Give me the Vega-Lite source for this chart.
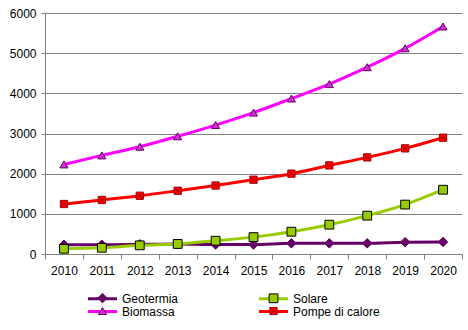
{
  "$schema": "https://vega.github.io/schema/vega-lite/v6.json",
  "width": 417,
  "height": 241,
  "autosize": {"type": "none"},
  "padding": {"left": 45, "top": 13, "right": 6, "bottom": 76},
  "background": "white",
  "config": {
    "view": {"stroke": null},
    "font": "Liberation Sans",
    "axis": {"labelFont": "Liberation Sans", "labelFontSize": 12, "labelColor": "black", "domainColor": "#808080", "tickColor": "#808080", "gridColor": "#808080", "gridOpacity": 1, "titleFontSize": 12},
    "legend": {"labelFont": "Liberation Sans", "labelFontSize": 12, "labelColor": "black", "padding": 0}
  },
  "data": {"values": [
    {"anno": "2010", "serie": "Geotermia", "valore": 230},
    {"anno": "2011", "serie": "Geotermia", "valore": 230},
    {"anno": "2012", "serie": "Geotermia", "valore": 240},
    {"anno": "2013", "serie": "Geotermia", "valore": 250},
    {"anno": "2014", "serie": "Geotermia", "valore": 235},
    {"anno": "2015", "serie": "Geotermia", "valore": 235},
    {"anno": "2016", "serie": "Geotermia", "valore": 265},
    {"anno": "2017", "serie": "Geotermia", "valore": 265},
    {"anno": "2018", "serie": "Geotermia", "valore": 265},
    {"anno": "2019", "serie": "Geotermia", "valore": 295},
    {"anno": "2020", "serie": "Geotermia", "valore": 300},
    {"anno": "2010", "serie": "Solare", "valore": 130},
    {"anno": "2011", "serie": "Solare", "valore": 155},
    {"anno": "2012", "serie": "Solare", "valore": 215},
    {"anno": "2013", "serie": "Solare", "valore": 250},
    {"anno": "2014", "serie": "Solare", "valore": 330},
    {"anno": "2015", "serie": "Solare", "valore": 420},
    {"anno": "2016", "serie": "Solare", "valore": 555},
    {"anno": "2017", "serie": "Solare", "valore": 730},
    {"anno": "2018", "serie": "Solare", "valore": 955},
    {"anno": "2019", "serie": "Solare", "valore": 1230},
    {"anno": "2020", "serie": "Solare", "valore": 1600},
    {"anno": "2010", "serie": "Biomassa", "valore": 2230},
    {"anno": "2011", "serie": "Biomassa", "valore": 2455},
    {"anno": "2012", "serie": "Biomassa", "valore": 2670},
    {"anno": "2013", "serie": "Biomassa", "valore": 2930},
    {"anno": "2014", "serie": "Biomassa", "valore": 3210},
    {"anno": "2015", "serie": "Biomassa", "valore": 3520},
    {"anno": "2016", "serie": "Biomassa", "valore": 3870},
    {"anno": "2017", "serie": "Biomassa", "valore": 4230},
    {"anno": "2018", "serie": "Biomassa", "valore": 4650},
    {"anno": "2019", "serie": "Biomassa", "valore": 5120},
    {"anno": "2020", "serie": "Biomassa", "valore": 5665},
    {"anno": "2010", "serie": "Pompe di calore", "valore": 1245},
    {"anno": "2011", "serie": "Pompe di calore", "valore": 1345},
    {"anno": "2012", "serie": "Pompe di calore", "valore": 1450},
    {"anno": "2013", "serie": "Pompe di calore", "valore": 1575},
    {"anno": "2014", "serie": "Pompe di calore", "valore": 1705},
    {"anno": "2015", "serie": "Pompe di calore", "valore": 1850},
    {"anno": "2016", "serie": "Pompe di calore", "valore": 2000},
    {"anno": "2017", "serie": "Pompe di calore", "valore": 2205},
    {"anno": "2018", "serie": "Pompe di calore", "valore": 2405},
    {"anno": "2019", "serie": "Pompe di calore", "valore": 2630},
    {"anno": "2020", "serie": "Pompe di calore", "valore": 2895}
  ]},
  "encoding": {
    "x": {"field": "anno", "type": "ordinal", "title": null,
      "scale": {"type": "band", "paddingInner": 0, "paddingOuter": 0},
      "axis": {"labelAngle": 0, "tickBand": "extent", "tickSize": 5, "labelPadding": 6, "domainColor": "#808080"}},
    "y": {"field": "valore", "type": "quantitative", "title": null,
      "scale": {"domain": [0, 6000], "nice": false},
      "axis": {"values": [0, 1000, 2000, 3000, 4000, 5000, 6000], "format": "d", "tickSize": 4, "labelPadding": 5, "grid": true}}
  },
  "layer": [
    {
      "mark": {"type": "line", "strokeWidth": 3, "interpolate": "monotone"},
      "encoding": {
        "color": {"field": "serie", "type": "nominal",
          "scale": {"domain": ["Geotermia", "Solare", "Biomassa", "Pompe di calore"], "range": ["#660066", "#99CC00", "#FF00FF", "#FF0000"]},
          "legend": {"title": null, "orient": "none", "legendX": 43, "legendY": 279, "columns": 2, "direction": "horizontal",
            "symbolType": "M-2.9,0H2.9", "symbolSize": 100, "symbolStrokeWidth": 3, "symbolOffset": 8, "labelOffset": 13, "columnPadding": 74, "rowPadding": -2}}
      }
    },
    {
      "mark": {"type": "point", "filled": true, "opacity": 1, "strokeWidth": 1},
      "encoding": {
        "fill": {"field": "serie", "type": "nominal",
          "scale": {"domain": ["Geotermia", "Solare", "Biomassa", "Pompe di calore", "-"], "range": ["#660066", "#99CC00", "#CC33CC", "#FF0000", "#FFFFFF"]},
          "legend": {"title": null, "orient": "none", "legendX": 43, "legendY": 279, "columns": 2, "direction": "horizontal",
            "values": ["Geotermia", "Solare", "Biomassa", "Pompe di calore"], "labelExpr": "''",
            "labelOffset": 14, "symbolOffset": 8.5, "columnPadding": 136, "rowPadding": -2, "symbolOpacity": 1, "symbolStrokeWidth": 1}},
        "stroke": {"field": "serie", "type": "nominal",
          "scale": {"domain": ["Geotermia", "Solare", "Biomassa", "Pompe di calore", "-"], "range": ["#660066", "#000000", "#660066", "#990000", "#FFFFFF"]},
          "legend": {"title": null, "orient": "none", "legendX": 43, "legendY": 279, "columns": 2, "direction": "horizontal",
            "values": ["Geotermia", "Solare", "Biomassa", "Pompe di calore"], "labelExpr": "''",
            "labelOffset": 14, "symbolOffset": 8.5, "columnPadding": 136, "rowPadding": -2, "symbolOpacity": 1, "symbolStrokeWidth": 1}},
        "shape": {"field": "serie", "type": "nominal",
          "scale": {"domain": ["Geotermia", "Solare", "Biomassa", "Pompe di calore", "-"], "range": ["diamond", "square", "triangle-up", "M-1,-1H1V1H-1Z M-0.5,-0.5L0.5,0.5 M0.5,-0.5L-0.5,0.5", "circle"]},
          "legend": {"title": null, "orient": "none", "legendX": 43, "legendY": 279, "columns": 2, "direction": "horizontal",
            "values": ["Geotermia", "Solare", "Biomassa", "Pompe di calore"], "labelExpr": "''",
            "labelOffset": 14, "symbolOffset": 8.5, "columnPadding": 136, "rowPadding": -2, "symbolOpacity": 1, "symbolStrokeWidth": 1}},
        "size": {"field": "serie", "type": "nominal",
          "scale": {"domain": ["Geotermia", "Solare", "Biomassa", "Pompe di calore", "-"], "range": [90, 40, 70, 110, 10]},
          "legend": {"title": null, "orient": "none", "legendX": 43, "legendY": 279, "columns": 2, "direction": "horizontal",
            "values": ["Geotermia", "Solare", "Biomassa", "Pompe di calore"], "labelExpr": "''",
            "labelOffset": 14, "symbolOffset": 8.5, "columnPadding": 136, "rowPadding": -2, "symbolOpacity": 1, "symbolStrokeWidth": 1}}
      }
    }
  ]
}
